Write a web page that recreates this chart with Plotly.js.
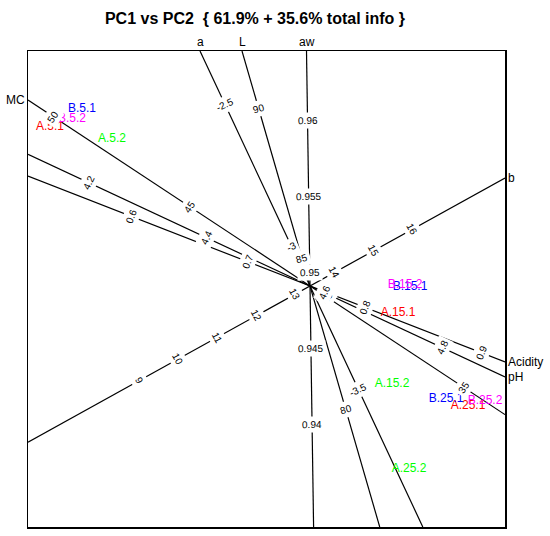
<!DOCTYPE html>
<html>
<head>
<meta charset="utf-8">
<script src="https://cdn.plot.ly/plotly-3.0.1.min.js"></script>
<style>html,body{margin:0;padding:0;background:#fff;}#chart{width:550px;height:536px;}</style>
</head>
<body>
<div id="chart"></div>
<script>
// ---- Data ----
const PC1_RANGE = [-2.82, 1.95];
const PC2_RANGE = [-2.41, 2.35];

// sample scores (PC1, PC2)
const sampleNames = ['A.5.1','A.5.2','B.5.1','B.5.2','A.15.1','A.15.2','B.15.1','B.15.2','A.25.1','A.25.2','B.25.1','B.25.2'];
const samplePC1 = [-2.60, -1.98, -2.28, -2.38, 0.88, 0.82, 1.00, 0.95, 1.58, 0.99, 1.36, 1.75];
const samplePC2 = [1.59, 1.47, 1.77, 1.67, -0.27, -0.98, -0.01, 0.01, -1.20, -1.83, -1.13, -1.15];
const sampleColors = ['#FF0000','#00FF00','#0000FF','#FF00FF','#FF0000','#00FF00','#0000FF','#FF00FF','#FF0000','#00FF00','#0000FF','#FF00FF'];

// variable axes: direction (loading), value at origin, value change per unit along axis, tick values
const varNames = ['a','L','aw','b','MC','pH','Acidity'];
const varDirX = [-1.10, -0.68, -0.035, 1.95, -2.82, 1.95, 1.95];
const varDirY = [2.35, 2.35, 2.35, 1.08, 1.86, -0.91, -0.76];
const varCentre = [-3.137, 84.1, 0.94914, 13.38, 40.62, 4.575, 0.753];
const varPerUnit = [0.318, 3.2, 0.006579, 2.242, 3.05, 0.1538, 0.0797];
const varTicks = [
  [-2.5, -3, -3.5],
  [90, 85, 80],
  [0.96, 0.955, 0.95, 0.945, 0.94],
  [9, 10, 11, 12, 13, 14, 15, 16],
  [50, 45, 40, 35],
  [4.2, 4.4, 4.6, 4.8],
  [0.6, 0.7, 0.8, 0.9]
];

const FONT = 'Liberation Sans, Arial, Helvetica, sans-serif';

// ---- Build ----
const traces = [];
const annotations = [];

function clipT(ux, uy) {
  let tmax = Infinity, tmin = -Infinity;
  const lims = [[ux, PC1_RANGE], [uy, PC2_RANGE]];
  let hit = null;
  lims.forEach(([u, r], i) => {
    if (Math.abs(u) < 1e-12) return;
    const a = r[0] / u, b = r[1] / u;
    const hi = Math.max(a, b), lo = Math.min(a, b);
    if (hi < tmax) { tmax = hi; hit = i === 0 ? (u > 0 ? 'right' : 'left') : (u > 0 ? 'top' : 'bottom'); }
    if (lo > tmin) tmin = lo;
  });
  return {tmin, tmax, hit};
}

varNames.forEach((name, i) => {
  const L = Math.hypot(varDirX[i], varDirY[i]);
  const ux = varDirX[i] / L, uy = varDirY[i] / L;
  const {tmin, tmax, hit} = clipT(ux, uy);
  traces.push({
    type: 'scatter', mode: 'lines',
    x: [tmin * ux, tmax * ux], y: [tmin * uy, tmax * uy],
    line: {color: '#000', width: 1.2},
    hoverinfo: 'skip', showlegend: false, cliponaxis: true
  });
  // perpendicular text angle
  let theta = Math.atan2(-uy, ux) * 180 / Math.PI + 90;
  while (theta > 90) theta -= 180;
  while (theta <= -90) theta += 180;
  varTicks[i].forEach(v => {
    const s = (v - varCentre[i]) / varPerUnit[i];
    annotations.push({
      x: s * ux, y: s * uy, xref: 'x', yref: 'y',
      text: String(v), showarrow: false, textangle: theta,
      font: {family: FONT, size: 10, color: '#000'},
      bgcolor: '#fff', borderpad: 2,
      xanchor: 'center', yanchor: 'middle'
    });
  });
  // variable name at the end of the axis
  const ann = {
    x: tmax * ux, y: tmax * uy, xref: 'x', yref: 'y', text: name, showarrow: false,
    font: {family: FONT, size: 12, color: '#000'}
  };
  if (hit === 'top') { ann.xanchor = 'center'; ann.yanchor = 'bottom'; ann.yshift = 0; }
  else if (hit === 'right') { ann.xanchor = 'left'; ann.yanchor = 'middle'; ann.xshift = 1; }
  else if (hit === 'left') { ann.xanchor = 'right'; ann.yanchor = 'middle'; ann.xshift = -1; }
  else { ann.xanchor = 'center'; ann.yanchor = 'top'; }
  annotations.push(ann);
});

traces.push({
  type: 'scatter', mode: 'text',
  x: samplePC1, y: samplePC2, text: sampleNames,
  textposition: 'middle center',
  textfont: {family: FONT, size: 12, color: sampleColors},
  hoverinfo: 'text', showlegend: false, cliponaxis: false
});

const axisCommon = {
  showgrid: false, zeroline: false, showticklabels: false, ticks: '',
  showline: true, mirror: true, linecolor: '#000', linewidth: 1.5, fixedrange: true
};

const layout = {
  width: 550, height: 536,
  margin: {l: 28, r: 45, t: 51, b: 9},
  paper_bgcolor: '#fff', plot_bgcolor: '#fff',
  title: {
    text: '<b>PC1 vs PC2\u00a0\u00a0{ 61.9% + 35.6% total info }</b>',
    font: {family: FONT, size: 16, color: '#000'},
    xref: 'container', yref: 'container',
    x: 255 / 550, xanchor: 'center', y: 1 - 18 / 536, yanchor: 'middle'
  },
  xaxis: Object.assign({range: PC1_RANGE}, axisCommon),
  yaxis: Object.assign({range: PC2_RANGE}, axisCommon),
  annotations: annotations,
  showlegend: false
};

Plotly.newPlot('chart', traces, layout, {displayModeBar: false, staticPlot: true});
</script>
</body>
</html>
